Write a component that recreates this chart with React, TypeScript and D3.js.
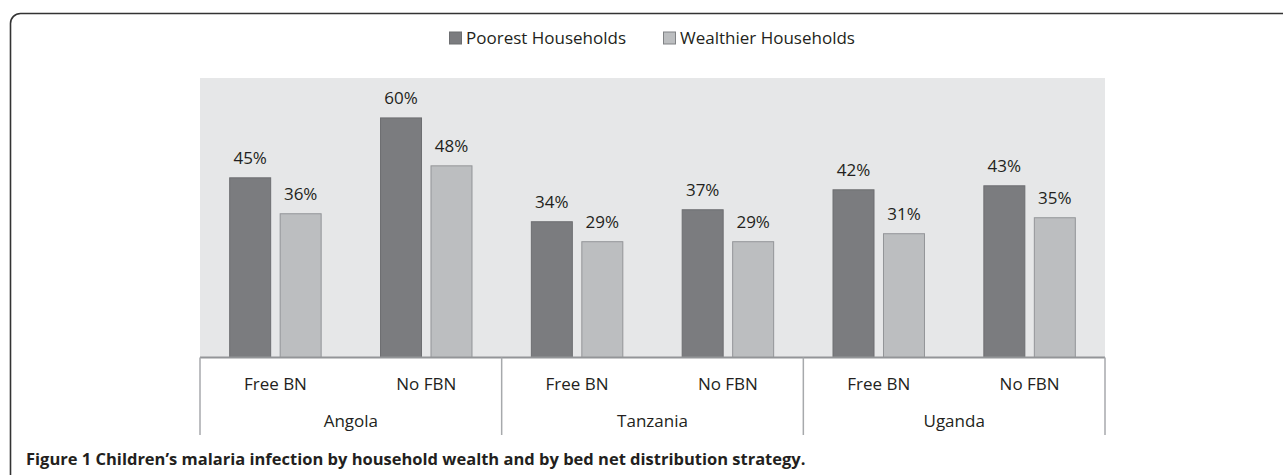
import React from "react";
import * as d3 from "d3";

const countries = ["Angola", "Tanzania", "Uganda"];
const strategies = ["Free BN", "No FBN"];
const seriesNames = ["Poorest Households", "Wealthier Households"];
const poorest = [45, 60, 34, 37, 42, 43];
const wealthier = [36, 48, 29, 29, 31, 35];
const yTicks = [0, 70];
const caption =
  "Figure 1 Children\u2019s malaria infection by household wealth and by bed net distribution strategy.";

const W = 1283;
const H = 475;
const plot = { left: 200, right: 1105, top: 78, bottom: 357.5 };
const fillDark = "#7b7c7f";
const fillLight = "#bcbec0";
const strokeDark = "#6d6e71";
const strokeLight = "#939598";
const textColor = "#231f20";
const font = "'Open Sans', 'Noto Sans', sans-serif";
const fs = 17;

export default function App() {
  const groups = countries.flatMap((c) => strategies.map((s) => `${c}|${s}`));
  const x0 = d3.scaleBand<string>().domain(groups).range([plot.left, plot.right]).padding(0);
  const xc = d3.scaleBand<string>().domain(countries).range([plot.left, plot.right]).padding(0);
  const x1 = d3
    .scaleBand<string>()
    .domain(seriesNames)
    .range([0, x0.bandwidth()])
    .paddingInner(0.188)
    .paddingOuter(0.588);
  const y = d3.scaleLinear().domain([yTicks[0], yTicks[1]]).range([plot.bottom, plot.top]);
  const values = [poorest, wealthier];
  const fills = [fillDark, fillLight];
  const strokes = [strokeDark, strokeLight];

  const dividers = [...countries.map((c) => xc(c)!), plot.right];

  return (
    <svg
      width={W}
      height={H}
      style={{ position: "absolute", left: 0, top: 0, background: "#fff" }}
      fontFamily={font}
    >
      <rect x={0} y={0} width={W} height={H} fill="#fff" />
      {/* outer frame */}
      <rect x={10.5} y={13.5} width={1400} height={600} rx={10} ry={10} fill="none" stroke="#333" strokeWidth={1.6} />
      {/* legend */}
      <g>
        <rect x={449.5} y={32} width={12} height={12} fill={fillDark} stroke={strokeDark} strokeWidth={1} />
        <text x={466} y={44} fontSize={fs} fill={textColor}>{seriesNames[0]}</text>
        <rect x={663.5} y={32} width={12} height={12} fill={fillLight} stroke="#808285" strokeWidth={1} />
        <text x={680} y={44} fontSize={fs} fill={textColor}>{seriesNames[1]}</text>
      </g>
      {/* plot background */}
      <rect x={plot.left} y={y(yTicks[1])} width={plot.right - plot.left} height={plot.bottom - y(yTicks[1])} fill="#e6e7e8" />
      {/* bars */}
      {groups.map((g, gi) =>
        seriesNames.map((s, si) => {
          const v = values[si][gi];
          const bx = x0(g)! + x1(s)!;
          const bw = x1.bandwidth();
          return (
            <g key={`${g}-${s}`}>
              <rect
                x={bx}
                y={y(v)}
                width={bw}
                height={plot.bottom - y(v)}
                fill={fills[si]}
                stroke={strokes[si]}
                strokeWidth={1}
              />
              <text x={bx + bw / 2} y={y(v) - 14} textAnchor="middle" fontSize={fs} fill={textColor}>
                {`${v}%`}
              </text>
            </g>
          );
        })
      )}
      {/* baseline */}
      <line x1={plot.left} x2={plot.right} y1={plot.bottom} y2={plot.bottom} stroke="#939598" strokeWidth={2} />
      {/* category dividers */}
      {dividers.map((dx, i) => (
        <line key={i} x1={dx} x2={dx} y1={plot.bottom} y2={435} stroke="#a7a9ac" strokeWidth={1.5} />
      ))}
      {/* subcategory labels */}
      {groups.map((g) => (
        <text key={g} x={x0(g)! + x0.bandwidth() / 2} y={390} textAnchor="middle" fontSize={fs} fill={textColor}>
          {g.split("|")[1]}
        </text>
      ))}
      {countries.map((c) => (
        <text key={c} x={xc(c)! + xc.bandwidth() / 2} y={427} textAnchor="middle" fontSize={fs} fill={textColor}>
          {c}
        </text>
      ))}
      {/* caption */}
      <text x={26} y={465} fontSize={16.5} fontWeight="bold" fill={textColor}>
        {caption}
      </text>
    </svg>
  );
}
